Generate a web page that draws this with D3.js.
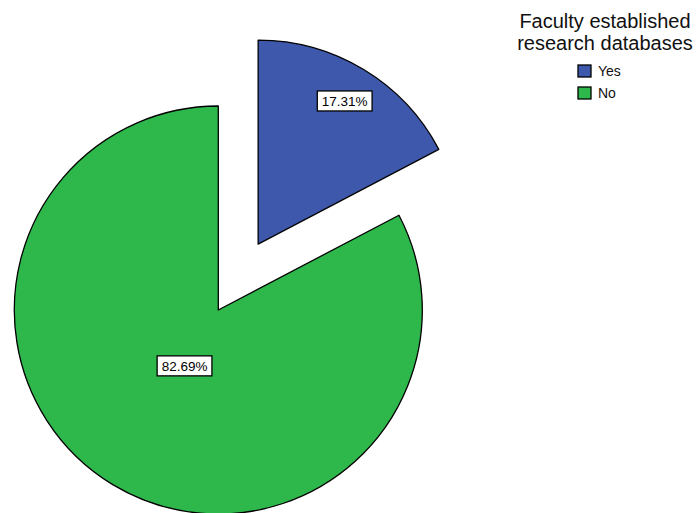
<!DOCTYPE html>
<html><head><meta charset="utf-8">
<script src="https://cdn.jsdelivr.net/npm/d3@7"></script>
<style>body{margin:0;background:#fff}svg{display:block}text{font-family:"Liberation Sans",Arial,sans-serif}</style>
</head><body><svg id="c" width="697" height="513"></svg>
<script>
const categories = ["Yes", "No"];
const values = [17.31, 82.69];
const colors = ["#3e58ac", "#2eb84b"];
const explode = [77, 0];
const labelPos = [0.82, 0.32];
const legendTitle = ["Faculty established", "research databases"];

const svg = d3.select("#c");
const cx = 218.3, cy = 310, r = 204;
const pie = d3.pie().sort(null).value(d => d)(values);
const arc = d3.arc().innerRadius(0).outerRadius(r);
const g = svg.append("g").attr("transform", `translate(${cx},${cy})`);
pie.forEach((p, i) => {
  const mid = (p.startAngle + p.endAngle) / 2;
  const ox = Math.sin(mid) * explode[i], oy = -Math.cos(mid) * explode[i];
  const sg = g.append("g").attr("transform", `translate(${ox},${oy})`);
  sg.append("path").attr("d", arc(p)).attr("fill", colors[i]).attr("stroke", "#000").attr("stroke-width", 1.3).attr("stroke-linejoin", "round");
  const lx = Math.sin(mid) * r * labelPos[i], ly = -Math.cos(mid) * r * labelPos[i];
  const txt = values[i].toFixed(2) + "%";
  const t = sg.append("text").attr("x", lx).attr("y", ly + 5).attr("text-anchor", "middle").attr("font-size", 13.5).attr("fill", "#000").text(txt);
  const w = t.node().getComputedTextLength();
  sg.insert("rect", "text").attr("x", lx - w / 2 - 4.5).attr("y", ly - 10).attr("width", w + 9).attr("height", 20).attr("fill", "#fff").attr("stroke", "#000").attr("stroke-width", 1.3);
});

// legend
const lg = svg.append("g");
legendTitle.forEach((s, i) => {
  lg.append("text").attr("x", 605).attr("y", 28 + i * 22).attr("text-anchor", "middle").attr("font-size", 20).attr("fill", "#111").text(s);
});
categories.forEach((c, i) => {
  const y = 65 + i * 22;
  lg.append("rect").attr("x", 578).attr("y", y).attr("width", 13).attr("height", 12).attr("fill", colors[i]).attr("stroke", "#000").attr("stroke-width", 1.3);
  lg.append("text").attr("x", 598).attr("y", y + 11).attr("font-size", 14).attr("fill", "#111").text(c);
});
</script></body></html>
